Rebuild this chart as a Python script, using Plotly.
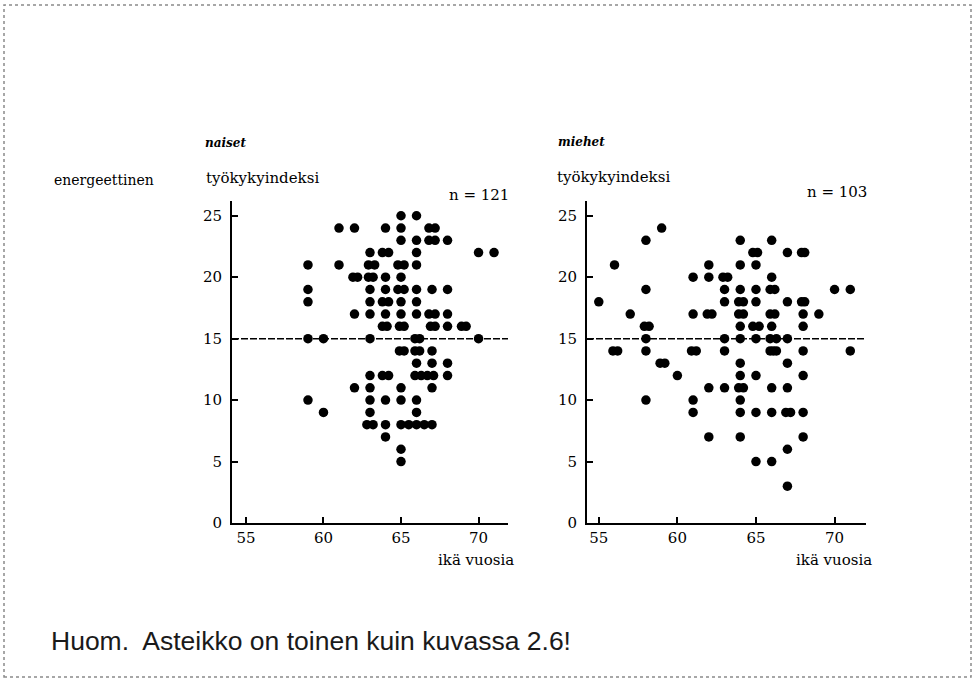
import plotly.graph_objects as go

W, H = 976, 681

X_TICKS = [55, 60, 65, 70]
Y_TICKS = [0, 5, 10, 15, 20, 25]
REF_LEVEL = 15

# naiset (women), n = 121 : age (years) and työkykyindeksi, read row by row
women_age = [
    65, 66,
    61, 62, 64, 65, 66.8, 67.2,
    65, 66, 66.8, 67.2, 68,
    63, 63.8, 64.2, 66, 70, 71,
    59, 61, 62.9, 63.3, 64.8, 65.2, 66,
    61.9, 62.2, 62.9, 63.2, 64, 65,
    59, 63, 64, 64.8, 65.2, 66, 67, 68,
    59, 63, 63.8, 64.2, 65, 66,
    62, 63, 64, 65, 66, 66.8, 67.2, 68,
    63.8, 64.1, 64.9, 65.2, 66.9, 67.2, 68, 68.9, 69.2,
    59, 60, 63, 65.9, 66.2, 70,
    64.9, 65.2, 65.9, 66.2, 67,
    66, 67, 68,
    63, 63.8, 64.2, 65.9, 66.3, 66.7, 67.1, 68,
    62, 63, 65, 67,
    59, 63, 64, 65, 66,
    60, 63, 66,
    62.8, 63.2, 64, 65, 65.5, 66, 66.5, 67,
    64,
    65,
    65,
]
women_index = [
    25, 25,
    24, 24, 24, 24, 24, 24,
    23, 23, 23, 23, 23,
    22, 22, 22, 22, 22, 22,
    21, 21, 21, 21, 21, 21, 21,
    20, 20, 20, 20, 20, 20,
    19, 19, 19, 19, 19, 19, 19, 19,
    18, 18, 18, 18, 18, 18,
    17, 17, 17, 17, 17, 17, 17, 17,
    16, 16, 16, 16, 16, 16, 16, 16, 16,
    15, 15, 15, 15, 15, 15,
    14, 14, 14, 14, 14,
    13, 13, 13,
    12, 12, 12, 12, 12, 12, 12, 12,
    11, 11, 11, 11,
    10, 10, 10, 10, 10,
    9, 9, 9,
    8, 8, 8, 8, 8, 8, 8, 8,
    7,
    6,
    5,
]

# miehet (men), n = 103
men_age = [
    59,
    58, 64, 66,
    64.8, 65.1, 67, 67.9, 68.1,
    56, 62, 64, 65,
    61, 62, 62.9, 63.2, 66,
    58, 63, 64, 65, 65.9, 66.2, 70, 71,
    55, 63, 63.9, 64.2, 65, 67, 67.9, 68.1,
    57, 61, 61.9, 62.2, 63.9, 64.2, 65.9, 66.2, 68, 69,
    57.9, 58.2, 64, 64.8, 65.2, 66, 68,
    58, 63, 64, 65, 65.9, 66.3, 67,
    55.9, 56.2, 58, 60.9, 61.2, 63, 65.9, 66.1, 66.3, 68, 71,
    58.9, 59.2, 64, 67,
    60, 64, 65, 68,
    62, 63, 63.9, 64.2, 66, 67,
    58, 61, 64,
    61, 64, 65, 66, 66.9, 67.2, 68,
    62, 64, 68,
    67,
    65, 66,
    67,
]
men_index = [
    24,
    23, 23, 23,
    22, 22, 22, 22, 22,
    21, 21, 21, 21,
    20, 20, 20, 20, 20,
    19, 19, 19, 19, 19, 19, 19, 19,
    18, 18, 18, 18, 18, 18, 18, 18,
    17, 17, 17, 17, 17, 17, 17, 17, 17, 17,
    16, 16, 16, 16, 16, 16, 16,
    15, 15, 15, 15, 15, 15, 15,
    14, 14, 14, 14, 14, 14, 14, 14, 14, 14, 14,
    13, 13, 13, 13,
    12, 12, 12, 12,
    11, 11, 11, 11, 11, 11,
    10, 10, 10,
    9, 9, 9, 9, 9, 9, 9,
    7, 7, 7,
    6,
    5, 5,
    3,
]

SERIF = "DejaVu Serif"

fig = go.Figure()
fig.add_trace(go.Scatter(x=women_age, y=women_index, mode="markers",
                         marker=dict(color="black", size=9.5, line=dict(width=0)),
                         xaxis="x", yaxis="y", showlegend=False, hoverinfo="x+y"))
fig.add_trace(go.Scatter(x=men_age, y=men_index, mode="markers",
                         marker=dict(color="black", size=9.5, line=dict(width=0)),
                         xaxis="x2", yaxis="y2", showlegend=False, hoverinfo="x+y"))

def px(x):
    return x / W

def py(y):
    return 1 - y / H

axis_common = dict(showline=True, linecolor="black", linewidth=2, ticks="inside",
                   ticklen=6, tickwidth=1.5, tickcolor="black", showgrid=False,
                   zeroline=False, tickfont=dict(family=SERIF, size=15, color="black"),
                   fixedrange=True, automargin=False)

fig.update_layout(
    width=W, height=H,
    margin=dict(l=0, r=0, t=0, b=0),
    paper_bgcolor="white", plot_bgcolor="white",
    xaxis=dict(domain=[px(232), px(508)], range=[54.1, 71.9], tickvals=X_TICKS,
               anchor="y", ticklabelstandoff=0, **axis_common),
    yaxis=dict(domain=[py(523), py(201)], range=[0, 26.2], tickvals=Y_TICKS,
               anchor="x", ticklabelstandoff=5, **axis_common),
    xaxis2=dict(domain=[px(587), px(866)], range=[54.25, 72.0], tickvals=X_TICKS,
                anchor="y2", ticklabelstandoff=0, **axis_common),
    yaxis2=dict(domain=[py(523), py(201)], range=[0, 26.2], tickvals=Y_TICKS,
                anchor="x2", ticklabelstandoff=5, **axis_common),
)

# reference line at index 15 in both panels
for xr, yr in (("x domain", "y"), ("x2 domain", "y2")):
    fig.add_shape(type="line", xref=xr, yref=yr, x0=0, x1=1, y0=REF_LEVEL, y1=REF_LEVEL,
                  line=dict(color="black", width=1.5, dash="7px,2px"))

# dotted page border
fig.add_shape(type="rect", xref="paper", yref="paper", x0=px(4), x1=px(971), y0=py(677), y1=py(5),
              line=dict(color="#8a8a8a", width=1.5, dash="dot"))

def label(text, x, y, anchor="left", size=15, italic=False, family=SERIF, color="black"):
    fig.add_annotation(text=("<i><b>%s</b></i>" % text) if italic else text,
                       x=px(x), y=py(y), xref="paper", yref="paper",
                       xanchor=anchor, yanchor="middle", showarrow=False,
                       font=dict(family=family, size=size, color=color))

label("naiset", 203, 143, italic=True, size=12)
label("miehet", 556, 142, italic=True, size=12)
label("energeettinen", 52, 180, size=14)
label("työkykyindeksi", 204, 178, size=15)
label("työkykyindeksi", 555, 177, size=15)
label("n = 121", 511, 195, anchor="right", size=15)
label("n = 103", 869, 192, anchor="right", size=15)
label("ikä vuosia", 516, 560, anchor="right", size=15)
label("ikä vuosia", 874, 560, anchor="right", size=15)
label("Huom.\u00a0 Asteikko on toinen kuin kuvassa 2.6!", 49, 641, size=26.5,
      family="Liberation Sans", color="#1a1a1a")

fig.write_html("out.html", config={"displayModeBar": False},
               post_script="document.body.style.margin='0';")
